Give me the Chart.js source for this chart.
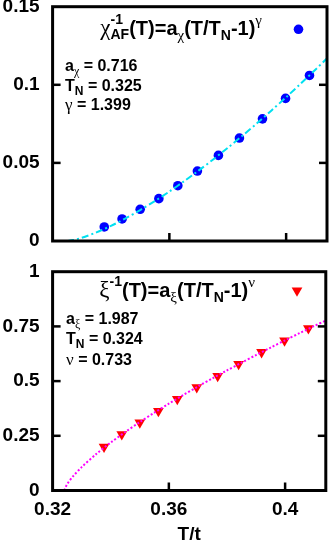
<!DOCTYPE html>
<html><head><meta charset="utf-8">
<script src="https://cdn.jsdelivr.net/npm/chart.js@4.4.1/dist/chart.umd.min.js"></script>
<style>
html,body{margin:0;padding:0;background:#fff;overflow:hidden;width:332px;height:543px}
#c1{position:absolute;left:0;top:0}
#c2{position:absolute;left:0;top:255px}
</style></head><body>
<canvas id="c1" width="332" height="255"></canvas>
<canvas id="c2" width="332" height="288"></canvas>
<script>
// ---- data ----
const temperature = [0.3377, 0.3438, 0.3500, 0.3564, 0.3629, 0.3696, 0.3768, 0.3840, 0.3919, 0.3998, 0.4080];
const chiInverse  = [0.0090, 0.0141, 0.0203, 0.0271, 0.0354, 0.0448, 0.0548, 0.0659, 0.0782, 0.0913, 0.1060];
const xiInverse   = [0.200, 0.257, 0.310, 0.363, 0.418, 0.472, 0.523, 0.578, 0.632, 0.685, 0.741];

const chiFitT = [0.325, 0.327, 0.330, 0.335, 0.340, 0.345, 0.350, 0.355, 0.360, 0.365, 0.370, 0.375, 0.380, 0.385, 0.390, 0.395, 0.400, 0.405, 0.410, 0.414];
const chiFitV = [0, 0.00058, 0.00208, 0.00549, 0.00969, 0.01448, 0.01980, 0.02554, 0.03169, 0.03821, 0.04504, 0.05220, 0.05965, 0.06736, 0.07536, 0.08360, 0.09205, 0.10075, 0.10966, 0.11695];
const xiFitT  = [0.324, 0.325, 0.327, 0.330, 0.335, 0.340, 0.345, 0.350, 0.355, 0.360, 0.365, 0.370, 0.375, 0.380, 0.385, 0.390, 0.395, 0.400, 0.405, 0.410, 0.414];
const xiFitV  = [0, 0.0287, 0.0642, 0.1068, 0.1665, 0.2191, 0.2674, 0.3127, 0.3557, 0.3969, 0.4366, 0.4751, 0.5125, 0.5488, 0.5843, 0.6190, 0.6530, 0.6865, 0.7193, 0.7516, 0.7770];

const xTicks = [0.32, 0.36, 0.4];
const xTickLabels = ['0.32', '0.36', '0.4'];
const chiTicks = [0, 0.05, 0.1, 0.15];
const chiTickLabels = ['0', '0.05', '0.1', '0.15'];
const xiTicks = [0, 0.25, 0.5, 0.75, 1];
const xiTickLabels = ['0', '0.25', '0.5', '0.75', '1'];
const xRange = [0.32, 0.414];
const chiRange = [0, 0.15];
const xiRange = [0, 1];

// ---- styles ----
const SANS = '"Liberation Sans", Arial, sans-serif';
const SERIF = '"Liberation Serif", "Times New Roman", serif';
const F = (sz, bold, serif) => (bold ? 'bold ' : '') + sz + 'px ' + (serif ? SERIF : SANS);
const BLUE = '#0000ff', CYAN = '#00e0f0', RED = '#ff0000', MAGENTA = '#ff00ff';

function pts(xs, ys) { return xs.map((x, i) => ({ x: x, y: ys[i] })); }

function drawRich(ctx, segs, x, y, align) {
  const widths = segs.map(s => {
    const parts = s.stack || [s];
    return Math.max(...parts.map(p => { ctx.font = p.f; return ctx.measureText(p.t).width; }));
  });
  const total = widths.reduce((a, b) => a + b, 0);
  let cx = align === 'right' ? x - total : x;
  ctx.textAlign = 'left'; ctx.textBaseline = 'alphabetic'; ctx.fillStyle = '#000';
  segs.forEach((s, i) => {
    (s.stack || [s]).forEach(p => { ctx.font = p.f; ctx.fillText(p.t, cx, y + (p.dy || 0)); });
    cx += widths[i];
  });
}

const framePlugin = {
  id: 'frame',
  afterDraw(chart, args, opts) {
    const ctx = chart.ctx, a = chart.chartArea;
    const xs = chart.scales.x, ys = chart.scales.y;
    ctx.save();
    ctx.strokeStyle = '#000';
    ctx.lineWidth = 2.5;
    ys.ticks.forEach(t => {
      const py = ys.getPixelForValue(t.value);
      if (Math.abs(py - a.top) < 2 || Math.abs(py - a.bottom) < 2) return;
      ctx.beginPath(); ctx.moveTo(a.left, py); ctx.lineTo(a.left + 8, py); ctx.stroke();
      ctx.beginPath(); ctx.moveTo(a.right, py); ctx.lineTo(a.right - 8, py); ctx.stroke();
    });
    xs.ticks.forEach(t => {
      const px = xs.getPixelForValue(t.value);
      if (Math.abs(px - a.left) < 2 || Math.abs(px - a.right) < 2) return;
      ctx.beginPath(); ctx.moveTo(px, a.bottom); ctx.lineTo(px, a.bottom - 8); ctx.stroke();
    });
    ctx.lineWidth = 3;
    ctx.strokeRect(a.left, a.top, a.right - a.left, a.bottom - a.top);
    // key + annotations
    const k = opts.key;
    drawRich(ctx, k.formula, k.fx, k.fy, 'right');
    k.params.forEach((line, i) => drawRich(ctx, line, k.px, k.py[i], 'left'));
    // key sample marker
    ctx.fillStyle = k.color;
    ctx.beginPath();
    if (k.marker === 'circle') {
      ctx.arc(k.mx, k.my, 4.8, 0, Math.PI * 2);
    } else {
      const r = 6.2;
      ctx.moveTo(k.mx - r * 0.866, k.my - r / 2);
      ctx.lineTo(k.mx + r * 0.866, k.my - r / 2);
      ctx.lineTo(k.mx, k.my + r);
      ctx.closePath();
    }
    ctx.fill();
    ctx.restore();
  }
};

function yAxis(range, ticks, labels, yWidth) {
  return {
    type: 'linear', min: range[0], max: range[1],
    grid: { display: false, drawTicks: false },
    border: { display: false },
    afterBuildTicks: s => { s.ticks = ticks.map(v => ({ value: v })); },
    ticks: {
      color: '#000', padding: 13, font: { family: SANS, size: 19, weight: 'bold' },
      callback: (v) => { const i = ticks.indexOf(v); return i >= 0 ? labels[i] : ''; }
    },
    afterFit: s => { s.width = yWidth; s.paddingTop = 0; s.paddingBottom = 0; }
  };
}

// ---- top panel ----
new Chart(document.getElementById('c1'), {
  type: 'scatter',
  data: {
    datasets: [
      { label: 'fit', type: 'line', data: pts(chiFitT, chiFitV), borderColor: CYAN, borderWidth: 2,
        borderDash: [7, 3, 2, 3], pointRadius: 0, fill: false, tension: 0.3, order: 0 },
      { label: 'chi', data: pts(temperature, chiInverse), backgroundColor: BLUE, borderColor: BLUE,
        pointRadius: 4.8, pointBorderWidth: 0, order: 1 }
    ]
  },
  options: {
    responsive: false, animation: false, devicePixelRatio: 1,
    layout: { padding: { top: 6.7, right: 5, left: 0, bottom: 0 } },
    plugins: {
      legend: { display: false }, tooltip: { enabled: false },
      frame: { key: {
        formula: [
          { t: 'χ', f: F(23, false, true) },
          { stack: [ { t: '-1', f: F(14, true), dy: -11 }, { t: 'AF', f: F(14, true), dy: 4 } ] },
          { t: '(T)=a', f: F(20, true) },
          { t: 'χ', f: F(15, false, true), dy: 5 },
          { t: '(T/T', f: F(20, true) },
          { t: 'N', f: F(14, true), dy: 5 },
          { t: '-1)', f: F(20, true) },
          { t: 'γ', f: F(15, false, true), dy: -10 }
        ],
        fx: 262, fy: 35,
        params: [
          [ { t: 'a', f: F(16, true) }, { t: 'χ', f: F(12, false, true), dy: 4 }, { t: ' = 0.716', f: F(16, true) } ],
          [ { t: 'T', f: F(16, true) }, { t: 'N', f: F(12, true), dy: 4 }, { t: ' = 0.325', f: F(16, true) } ],
          [ { t: 'γ', f: F(17, false, true) }, { t: ' = 1.399', f: F(16, true) } ]
        ],
        px: 65, py: [71, 90.5, 110],
        marker: 'circle', color: BLUE, mx: 298.5, my: 29.3
      } }
    },
    scales: {
      x: {
        type: 'linear', min: xRange[0], max: xRange[1],
        grid: { display: false, drawTicks: false }, border: { display: false },
        afterBuildTicks: s => { s.ticks = xTicks.map(v => ({ value: v })); },
        ticks: { display: false },
        afterFit: s => { s.height = 14; s.paddingLeft = 0; s.paddingRight = 0; }
      },
      y: yAxis(chiRange, chiTicks, chiTickLabels, 52.6)
    }
  },
  plugins: [framePlugin]
});

// ---- bottom panel ----
new Chart(document.getElementById('c2'), {
  type: 'scatter',
  data: {
    datasets: [
      { label: 'fit', type: 'line', data: pts(xiFitT, xiFitV), borderColor: MAGENTA, borderWidth: 2,
        borderDash: [2, 2], pointRadius: 0, fill: false, tension: 0.3, order: 0 },
      { label: 'xi', data: pts(temperature, xiInverse), backgroundColor: RED, borderColor: RED,
        pointStyle: 'triangle', rotation: 180, pointRadius: 6.2, pointBorderWidth: 0, order: 1 }
    ]
  },
  options: {
    responsive: false, animation: false, devicePixelRatio: 1,
    layout: { padding: { top: 16.7, right: 5, left: 0, bottom: 0 } },
    plugins: {
      legend: { display: false }, tooltip: { enabled: false },
      frame: { key: {
        formula: [
          { t: 'ξ', f: F(23, false, true) },
          { t: '-1', f: F(14, true), dy: -11 },
          { t: '(T)=a', f: F(20, true) },
          { t: 'ξ', f: F(15, false, true), dy: 5 },
          { t: '(T/T', f: F(20, true) },
          { t: 'N', f: F(14, true), dy: 5 },
          { t: '-1)', f: F(20, true) },
          { t: 'ν', f: F(15, false, true), dy: -10 }
        ],
        fx: 255, fy: 42,
        params: [
          [ { t: 'a', f: F(16, true) }, { t: 'ξ', f: F(12, false, true), dy: 4 }, { t: ' = 1.987', f: F(16, true) } ],
          [ { t: 'T', f: F(16, true) }, { t: 'N', f: F(12, true), dy: 4 }, { t: ' = 0.324', f: F(16, true) } ],
          [ { t: 'ν', f: F(17, false, true) }, { t: ' = 0.733', f: F(16, true) } ]
        ],
        px: 66, py: [68.5, 89, 109.5],
        marker: 'triangle', color: RED, mx: 297, my: 35.5
      } }
    },
    scales: {
      x: {
        type: 'linear', min: xRange[0], max: xRange[1],
        grid: { display: false, drawTicks: false }, border: { display: false },
        afterBuildTicks: s => { s.ticks = xTicks.map(v => ({ value: v })); },
        ticks: {
          color: '#000', padding: 8, maxRotation: 0, font: { family: SANS, size: 19, weight: 'bold' },
          callback: (v) => { const i = xTicks.indexOf(v); return i >= 0 ? xTickLabels[i] : ''; }
        },
        title: { display: true, text: 'T/t', color: '#000', padding: { top: 0, bottom: -3 },
                 font: { family: SANS, size: 19, weight: 'bold' } },
        afterFit: s => { s.height = 52.5; s.paddingLeft = 0; s.paddingRight = 0; }
      },
      y: yAxis(xiRange, xiTicks, xiTickLabels, 52.6)
    }
  },
  plugins: [framePlugin]
});
</script>
</body></html>
